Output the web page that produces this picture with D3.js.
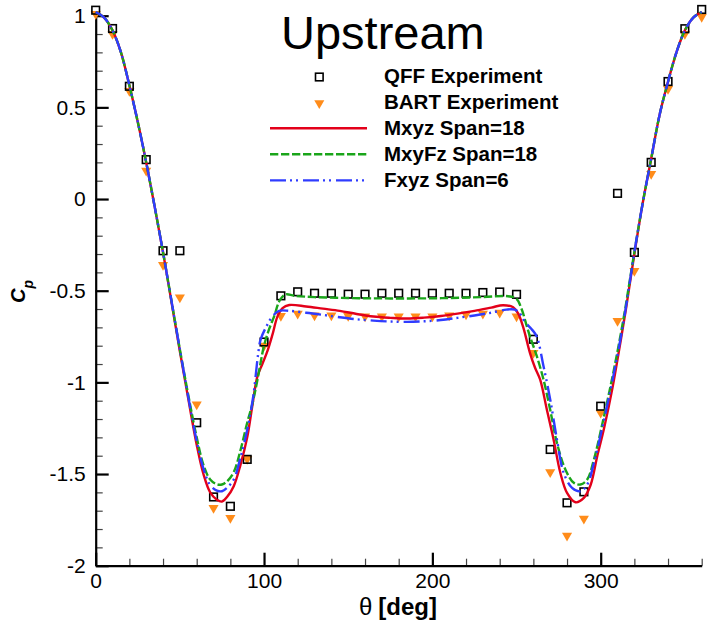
<!DOCTYPE html>
<html>
<head>
<meta charset="utf-8">
<script src="https://cdn.jsdelivr.net/npm/d3@7/dist/d3.min.js"></script>
<style>
  html, body { margin: 0; padding: 0; background: #fff; }
  svg { display: block; font-family: "Liberation Sans", Arial, sans-serif; }
</style>
</head>
<body>
<svg id="chart" width="708" height="621"></svg>
<script>
// ---------------- DATA ----------------
const titleText = "Upstream";
const seriesNames = ["QFF Experiment", "BART Experiment", "Mxyz Span=18", "MxyFz Span=18", "Fxyz Span=6"];

const expTheta = [0,10,20,30,40,50,60,70,80,90,100,110,120,130,140,150,160,170,180,190,200,210,220,230,240,250,260,270,280,290,300,310,320,330,340,350,360];
const qffCp = [1.03,0.93,0.615,0.215,-0.282,-0.282,-1.22,-1.625,-1.676,-1.42,-0.78,-0.528,-0.506,-0.514,-0.514,-0.519,-0.519,-0.514,-0.514,-0.514,-0.514,-0.514,-0.514,-0.51,-0.507,-0.52,-0.765,-1.366,-1.657,-1.597,-1.13,0.031,-0.291,0.2,0.641,0.929,1.034];
const bartCp = [1.01,0.90,0.59,0.155,-0.36,-0.537,-1.12,-1.685,-1.74,-1.417,-0.80,-0.638,-0.625,-0.635,-0.635,-0.638,-0.64,-0.64,-0.64,-0.64,-0.64,-0.635,-0.63,-0.625,-0.62,-0.64,-0.84,-1.49,-1.836,-1.743,-1.166,-0.665,-0.392,0.137,0.60,0.90,0.993];

const mxyz = [[0,1.02],[5,0.99],[10,0.92],[15,0.80],[20,0.62],[25,0.42],[30,0.20],[35,-0.04],[40,-0.29],[45,-0.56],[50,-0.83],[55,-1.09],[60,-1.34],[64,-1.50],[68,-1.60],[72,-1.64],[75,-1.65],[78,-1.625],[82,-1.566],[86,-1.45],[90,-1.30],[93,-1.13],[96,-0.97],[99,-0.90],[102,-0.83],[105,-0.74],[108,-0.64],[111,-0.595],[115,-0.578],[125,-0.586],[135,-0.598],[145,-0.61],[155,-0.627],[165,-0.641],[175,-0.648],[185,-0.652],[195,-0.647],[205,-0.638],[215,-0.625],[225,-0.61],[235,-0.592],[242,-0.579],[248,-0.59],[251,-0.625],[254,-0.70],[258,-0.84],[261,-0.92],[264,-0.984],[268,-1.148],[272,-1.311],[276,-1.493],[280,-1.603],[285,-1.654],[290,-1.63],[294,-1.56],[298,-1.40],[302,-1.25],[307,-1.03],[311,-0.82],[315,-0.60],[320,-0.30],[325,-0.02],[330,0.22],[335,0.46],[340,0.64],[345,0.80],[350,0.92],[355,0.99],[360,1.02]];

const mxyfz = [[0,1.02],[5,0.99],[10,0.92],[15,0.80],[20,0.62],[25,0.42],[30,0.20],[35,-0.04],[40,-0.29],[45,-0.555],[50,-0.82],[55,-1.07],[60,-1.30],[64,-1.45],[68,-1.53],[72,-1.556],[75,-1.557],[78,-1.54],[82,-1.49],[86,-1.37],[90,-1.22],[93,-1.12],[96,-0.99],[100,-0.80],[103,-0.71],[106,-0.64],[109.5,-0.55],[113,-0.52],[118,-0.528],[130,-0.535],[150,-0.54],[170,-0.542],[190,-0.542],[210,-0.54],[230,-0.535],[245,-0.53],[250,-0.545],[253,-0.60],[256,-0.69],[258,-0.75],[262,-0.856],[266,-0.984],[270,-1.15],[274,-1.33],[279,-1.475],[284,-1.548],[288,-1.557],[292,-1.53],[296,-1.42],[301.6,-1.20],[307.5,-0.947],[313.5,-0.656],[317,-0.46],[320,-0.29],[325,-0.02],[330,0.22],[335,0.46],[340,0.64],[345,0.80],[350,0.92],[355,0.99],[360,1.02]];

const fxyz = [[0,1.02],[5,0.99],[10,0.92],[15,0.80],[20,0.62],[25,0.42],[30,0.20],[35,-0.04],[40,-0.29],[45,-0.555],[50,-0.82],[55,-1.08],[60,-1.32],[64,-1.47],[68,-1.56],[72,-1.59],[75,-1.594],[78,-1.575],[82,-1.53],[86,-1.41],[90,-1.26],[93.6,-1.075],[96.6,-0.838],[98,-0.765],[101.6,-0.692],[105,-0.64],[109,-0.61],[115,-0.61],[125,-0.62],[135,-0.632],[145,-0.645],[155,-0.656],[165,-0.663],[175,-0.668],[185,-0.67],[195,-0.667],[205,-0.66],[215,-0.648],[225,-0.635],[235,-0.62],[244,-0.603],[249,-0.603],[252,-0.625],[255,-0.67],[259,-0.71],[262,-0.75],[266,-0.911],[270,-1.093],[274,-1.311],[278,-1.493],[283,-1.576],[288,-1.594],[292,-1.557],[296,-1.439],[301.6,-1.22],[307.5,-0.966],[313.5,-0.674],[317,-0.47],[320,-0.29],[325,-0.02],[330,0.22],[335,0.46],[340,0.64],[345,0.80],[350,0.92],[355,0.99],[360,1.02]];

const xMajorTicks = [0,100,200,300];
const xMajorLabels = ["0","100","200","300"];
const xMinorTicks = [20,40,60,80,120,140,160,180,220,240,260,280,320,340,360];
const yMajorTicks = [-2,-1.5,-1,-0.5,0,0.5,1];
const yMajorLabels = ["-2","-1.5","-1","-0.5","0","0.5","1"];
const yMinorTicks = [-1.9,-1.8,-1.7,-1.6,-1.4,-1.3,-1.2,-1.1,-0.9,-0.8,-0.7,-0.6,-0.4,-0.3,-0.2,-0.1,0.1,0.2,0.3,0.4,0.6,0.7,0.8,0.9];

// ---------------- CHART ----------------
const svg = d3.select("#chart");
const x = d3.scaleLinear().domain([0, 360]).range([95.7, 701.7]);
const y = d3.scaleLinear().domain([-2, 1]).range([565.7, 15.7]);

const colors = { red: "#e3001a", green: "#1aa51a", blue: "#2f3cff", orange: "#ff8c1a" };

// Axes: minor ticks
const gxMinor = svg.append("g").attr("transform", `translate(0,${y(-2)})`)
  .call(d3.axisBottom(x).tickValues(xMinorTicks).tickSize(-7).tickFormat(""));
const gyMinor = svg.append("g").attr("transform", `translate(${x(0)},0)`)
  .call(d3.axisLeft(y).tickValues(yMinorTicks).tickSize(-7).tickFormat(""));
[gxMinor, gyMinor].forEach(g => {
  g.select(".domain").remove();
  g.selectAll(".tick line").attr("stroke", "#444").attr("stroke-width", 1.2);
});

// Major axes
const gx = svg.append("g").attr("transform", `translate(0,${y(-2)})`)
  .call(d3.axisBottom(x).tickValues(xMajorTicks).tickSizeInner(-13).tickSizeOuter(0)
    .tickPadding(7).tickFormat((d, i) => xMajorLabels[i]));
const gy = svg.append("g").attr("transform", `translate(${x(0)},0)`)
  .call(d3.axisLeft(y).tickValues(yMajorTicks).tickSizeInner(-13).tickSizeOuter(0)
    .tickPadding(10).tickFormat((d, i) => yMajorLabels[i]));
[gx, gy].forEach(g => {
  g.select(".domain").attr("stroke", "#000").attr("stroke-width", 2.2);
  g.selectAll(".tick line").attr("stroke", "#000").attr("stroke-width", 2.2);
  g.selectAll(".tick text").attr("fill", "#000").attr("font-size", 21)
    .attr("font-family", "'Liberation Sans', Arial, sans-serif");
});

// Experiments
const triSym = d3.symbol().type(d3.symbolTriangle).size(44);
svg.append("g").selectAll("path").data(expTheta.map((t, i) => [t, bartCp[i]])).join("path")
  .attr("d", triSym)
  .attr("transform", d => `translate(${x(d[0])},${y(d[1])}) rotate(180)`)
  .attr("fill", colors.orange);

svg.append("g").selectAll("rect").data(expTheta.map((t, i) => [t, qffCp[i]])).join("rect")
  .attr("x", d => x(d[0]) - 3.8).attr("y", d => y(d[1]) - 3.8)
  .attr("width", 7.6).attr("height", 7.6)
  .attr("fill", "none").attr("stroke", "#000").attr("stroke-width", 1.6);

// CFD lines
const line = d3.line().x(d => x(d[0])).y(d => y(d[1])).curve(d3.curveCatmullRom.alpha(0.5));
const lineStyles = [
  { data: mxyz, color: colors.red, dash: null },
  { data: mxyfz, color: colors.green, dash: "8.3,2.7" },
  { data: fxyz, color: colors.blue, dash: "16,4,2,4,2,5" }
];
lineStyles.forEach(s => {
  svg.append("path").datum(s.data).attr("d", line)
    .attr("fill", "none").attr("stroke", s.color).attr("stroke-width", 2.4)
    .attr("stroke-dasharray", s.dash);
});

// Title
svg.append("text").attr("x", 281).attr("y", 49).attr("font-size", 47)
  .attr("fill", "#000").text(titleText);

// Legend
const legX = 384, legY0 = 83, legDy = 26.1;
const leg = svg.append("g");
seriesNames.forEach((name, i) => {
  leg.append("text").attr("x", legX).attr("y", legY0 + i * legDy)
    .attr("font-size", 20.5).attr("font-weight", "bold").attr("fill", "#000").text(name);
});
leg.append("path").attr("d", triSym)
  .attr("transform", `translate(319.3,${legY0 + legDy - 6}) rotate(180)`).attr("fill", colors.orange);
leg.append("rect").attr("x", 319.3 - 3.8).attr("y", legY0 - 6 - 3.8).attr("width", 7.6).attr("height", 7.6)
  .attr("fill", "none").attr("stroke", "#000").attr("stroke-width", 1.6);
lineStyles.forEach((s, i) => {
  const yy = legY0 + (i + 2) * legDy - 7;
  leg.append("line").attr("x1", 270).attr("x2", 367).attr("y1", yy).attr("y2", yy)
    .attr("stroke", s.color).attr("stroke-width", 2.4).attr("stroke-dasharray", s.dash);
});

// Axis titles
const xt = svg.append("text").attr("x", 359).attr("y", 615).attr("font-size", 24).attr("fill", "#000");
xt.append("tspan").text("θ");
xt.append("tspan").attr("dx", 6).attr("font-weight", "bold").text("[deg]");

const yt = svg.append("text").attr("transform", "translate(25,303) rotate(-90)")
  .attr("font-size", 20).attr("font-weight", "bold").attr("font-style", "italic").attr("fill", "#000");
yt.append("tspan").text("C");
yt.append("tspan").attr("dy", 8).attr("font-size", 14).text("p");
</script>
</body>
</html>
